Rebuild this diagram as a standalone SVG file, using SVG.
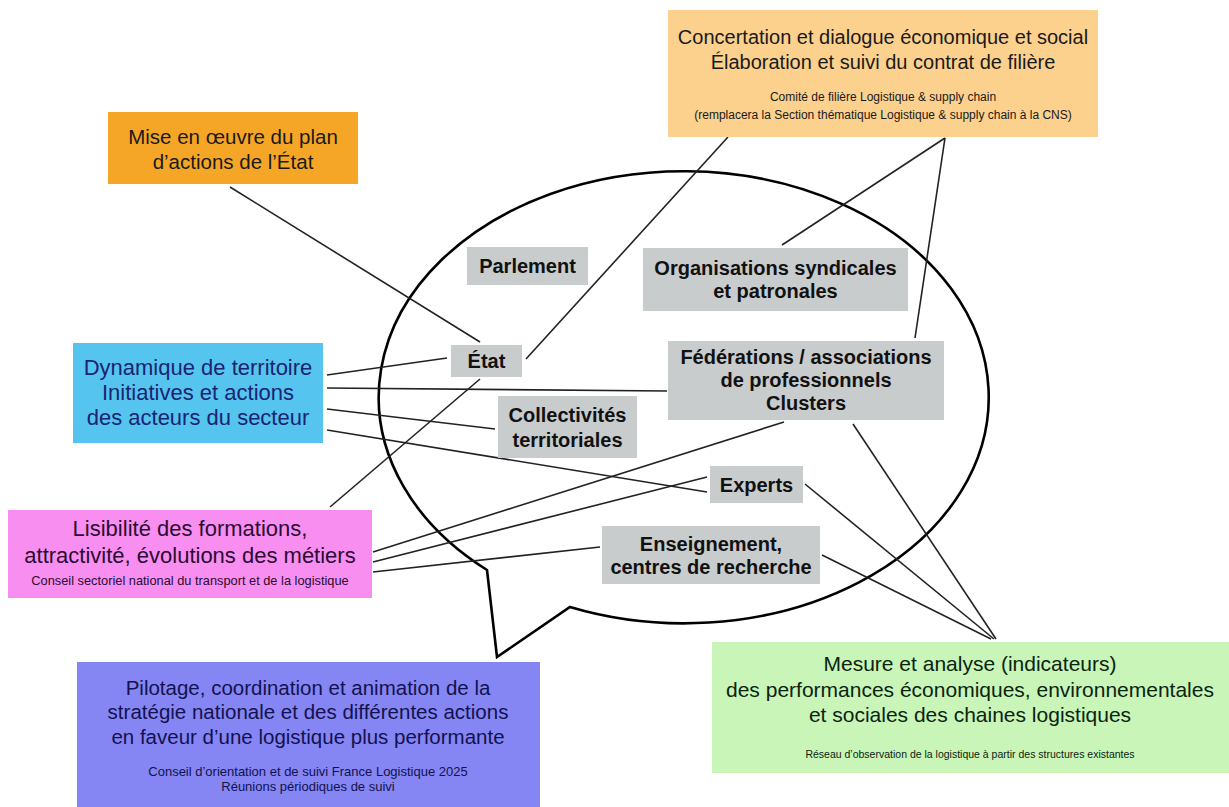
<svg xmlns="http://www.w3.org/2000/svg" width="1229" height="807" viewBox="0 0 1229 807">
<style>
  .t{font-family:"Liberation Sans",Arial,sans-serif;text-anchor:middle}
  .big{font-size:20.5px}
  .sm{font-size:11.5px}
  .g{font-family:"Liberation Sans",Arial,sans-serif;text-anchor:middle;font-weight:bold;font-size:20px;fill:#111}
  .gbox{fill:#c9cccd}
  .ln{stroke:#222;stroke-width:1.6;fill:none}
</style>
<rect width="1229" height="807" fill="#ffffff"/>

<g id="bubble">
  <path d="M 487 570 L 497 657 L 570 607 A 305 226 0 1 0 487 570 Z" fill="#ffffff" stroke="#000" stroke-width="2.6" stroke-linejoin="miter"/>
</g>

<g id="connectors">
  <line class="ln" x1="230" y1="187" x2="480" y2="342"/>
  <line class="ln" x1="728" y1="137" x2="526" y2="359"/>
  <line class="ln" x1="945" y1="138" x2="782" y2="245"/>
  <line class="ln" x1="945" y1="138" x2="915" y2="338"/>
  <line class="ln" x1="327" y1="375" x2="447" y2="358"/>
  <line class="ln" x1="327" y1="388" x2="667" y2="391"/>
  <line class="ln" x1="327" y1="409" x2="495" y2="429"/>
  <line class="ln" x1="327" y1="430" x2="707" y2="492"/>
  <line class="ln" x1="330" y1="507" x2="480" y2="379"/>
  <line class="ln" x1="373" y1="552" x2="784" y2="422"/>
  <line class="ln" x1="373" y1="562" x2="707" y2="477"/>
  <line class="ln" x1="373" y1="572" x2="600" y2="547"/>
  <line class="ln" x1="853" y1="424" x2="996" y2="639"/>
  <line class="ln" x1="805" y1="484" x2="994" y2="639"/>
  <line class="ln" x1="822" y1="555" x2="991" y2="639"/>
</g>

<g id="concertation">
  <rect x="668" y="10" width="430" height="127" fill="#fcd18e"/>
  <text class="t" x="883" y="44" fill="#1a1a1a" font-size="20">Concertation et dialogue économique et social</text>
  <text class="t" x="883" y="69" fill="#1a1a1a" font-size="20">Élaboration et suivi du contrat de filière</text>
  <text class="t" x="883" y="101" fill="#1a1a1a" font-size="12">Comité de filière Logistique &amp; supply chain</text>
  <text class="t" x="883" y="119" fill="#1a1a1a" font-size="12">(remplacera la Section thématique Logistique &amp; supply chain à la CNS)</text>
</g>

<g id="mise-en-oeuvre">
  <rect x="108" y="112" width="250" height="72" fill="#f6a626"/>
  <text class="t big" x="233" y="144" fill="#1a1a1a">Mise en œuvre du plan</text>
  <text class="t big" x="233" y="169" fill="#1a1a1a">d’actions de l’État</text>
</g>

<g id="dynamique">
  <rect x="73" y="343" width="250" height="100" fill="#55c4ef"/>
  <text class="t" x="198" y="375" fill="#1a2470" font-size="22">Dynamique de territoire</text>
  <text class="t" x="198" y="400" fill="#1a2470" font-size="22">Initiatives et actions</text>
  <text class="t" x="198" y="425" fill="#1a2470" font-size="22">des acteurs du secteur</text>
</g>

<g id="lisibilite">
  <rect x="8" y="510" width="364" height="88" fill="#f88ff0"/>
  <text class="t" x="190" y="536" fill="#2b0b33" font-size="22">Lisibilité des formations,</text>
  <text class="t" x="190" y="563" fill="#2b0b33" font-size="22">attractivité, évolutions des métiers</text>
  <text class="t" x="190" y="585" fill="#2b0b33" font-size="12.8">Conseil sectoriel national du transport et de la logistique</text>
</g>

<g id="pilotage">
  <rect x="77" y="662" width="463" height="145" fill="#8585f3"/>
  <text class="t big" x="308" y="695" fill="#12124f">Pilotage, coordination et animation de la</text>
  <text class="t big" x="308" y="719" fill="#12124f">stratégie nationale et des différentes actions</text>
  <text class="t big" x="308" y="744" fill="#12124f">en faveur d’une logistique plus performante</text>
  <text class="t" x="308" y="776" fill="#12124f" font-size="13">Conseil d’orientation et de suivi France Logistique 2025</text>
  <text class="t" x="308" y="791" fill="#12124f" font-size="13">Réunions périodiques de suivi</text>
</g>

<g id="mesure">
  <rect x="712" y="642" width="517" height="131" fill="#c9f5b8"/>
  <text class="t" x="970" y="671" fill="#0b2410" font-size="21">Mesure et analyse (indicateurs)</text>
  <text class="t" x="970" y="697" fill="#0b2410" font-size="21">des performances économiques, environnementales</text>
  <text class="t" x="970" y="722" fill="#0b2410" font-size="21">et sociales des chaines logistiques</text>
  <text class="t" x="970" y="758" fill="#0b2410" font-size="10.5">Réseau d’observation de la logistique à partir des structures existantes</text>
</g>

<g id="parlement">
  <rect class="gbox" x="467" y="247" width="121" height="38"/>
  <text class="g" x="527.5" y="273">Parlement</text>
</g>

<g id="organisations">
  <rect class="gbox" x="643" y="248" width="265" height="63"/>
  <text class="g" x="775.5" y="275">Organisations syndicales</text>
  <text class="g" x="775.5" y="298">et patronales</text>
</g>

<g id="etat">
  <rect class="gbox" x="451" y="345" width="71" height="32"/>
  <text class="g" x="486.5" y="368">État</text>
</g>

<g id="federations">
  <rect class="gbox" x="668" y="341" width="276" height="79"/>
  <text class="g" x="806" y="364">Fédérations / associations</text>
  <text class="g" x="806" y="387">de professionnels</text>
  <text class="g" x="806" y="410">Clusters</text>
</g>

<g id="collectivites">
  <rect class="gbox" x="498" y="396" width="139" height="62"/>
  <text class="g" x="567.5" y="422">Collectivités</text>
  <text class="g" x="567.5" y="447">territoriales</text>
</g>

<g id="experts">
  <rect class="gbox" x="710" y="466" width="93" height="37"/>
  <text class="g" x="756.5" y="492">Experts</text>
</g>

<g id="enseignement">
  <rect class="gbox" x="602" y="526" width="218" height="58"/>
  <text class="g" x="711" y="551">Enseignement,</text>
  <text class="g" x="711" y="574">centres de recherche</text>
</g>
</svg>
